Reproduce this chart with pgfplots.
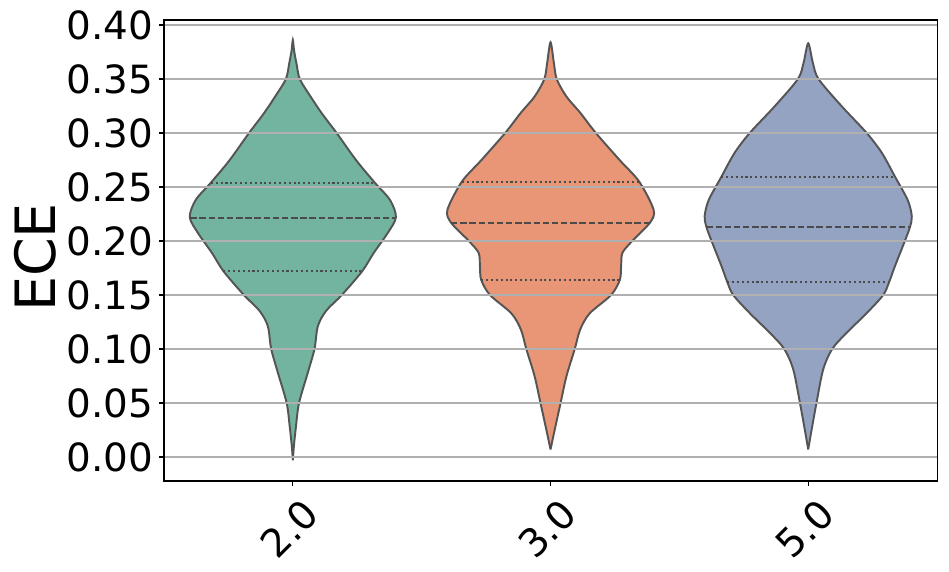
\documentclass[border=0pt]{standalone}
\usepackage{pgfplots}
\pgfplotsset{compat=1.18}
\usepackage{pgfplotstable}
\usepackage{fontspec}
\setmainfont{DejaVu Sans}
\definecolor{vgreen}{RGB}{114,180,160}
\definecolor{vorange}{RGB}{232,150,117}
\definecolor{vblue}{RGB}{149,163,195}
\definecolor{edgegray}{RGB}{85,85,85}
\definecolor{innergray}{RGB}{75,75,75}
\definecolor{gridgray}{RGB}{176,176,176}

% violin outlines: y value, signed half width (right side up, left side down)
\pgfplotstableread{
y dx
-0.003 0
0.010 0.004
0.028 0.012
0.050 0.024
0.078 0.058
0.100 0.084
0.118 0.094
0.127 0.107
0.137 0.135
0.150 0.190
0.172 0.269
0.189 0.314
0.207 0.367
0.222 0.400
0.238 0.377
0.254 0.318
0.275 0.245
0.300 0.170
0.318 0.113
0.334 0.068
0.350 0.027
0.3645 0.014
0.376 0.005
0.386 0
0.376 -0.005
0.3645 -0.014
0.350 -0.027
0.334 -0.068
0.318 -0.113
0.300 -0.170
0.275 -0.245
0.254 -0.318
0.238 -0.377
0.222 -0.400
0.207 -0.367
0.189 -0.314
0.172 -0.269
0.150 -0.190
0.137 -0.135
0.127 -0.107
0.118 -0.094
0.100 -0.084
0.078 -0.058
0.050 -0.024
0.028 -0.012
0.010 -0.004
-0.003 0
}\violinA

\pgfplotstableread{
y dx
0.007 0
0.025 0.016
0.050 0.039
0.075 0.062
0.100 0.094
0.118 0.115
0.133 0.152
0.150 0.235
0.164 0.269
0.177 0.274
0.189 0.279
0.200 0.317
0.217 0.386
0.229 0.400
0.255 0.344
0.275 0.268
0.300 0.176
0.3185 0.116
0.334 0.061
0.350 0.024
0.365 0.013
0.384 0
0.365 -0.013
0.350 -0.024
0.334 -0.061
0.3185 -0.116
0.300 -0.176
0.275 -0.268
0.255 -0.344
0.229 -0.400
0.217 -0.386
0.200 -0.317
0.189 -0.279
0.177 -0.274
0.164 -0.269
0.150 -0.235
0.133 -0.152
0.118 -0.115
0.100 -0.094
0.075 -0.062
0.050 -0.039
0.025 -0.016
0.007 0
}\violinB

\pgfplotstableread{
y dx
0.007 0
0.025 0.013
0.050 0.032
0.081 0.058
0.100 0.093
0.115 0.149
0.133 0.226
0.150 0.291
0.162 0.314
0.177 0.337
0.200 0.375
0.213 0.395
0.223 0.402
0.238 0.386
0.259 0.338
0.2815 0.286
0.300 0.227
0.325 0.129
0.350 0.040
0.365 0.018
0.383 0
0.365 -0.018
0.350 -0.040
0.325 -0.129
0.300 -0.227
0.2815 -0.286
0.259 -0.338
0.238 -0.386
0.223 -0.402
0.213 -0.395
0.200 -0.375
0.177 -0.337
0.162 -0.314
0.150 -0.291
0.133 -0.226
0.115 -0.149
0.100 -0.093
0.081 -0.058
0.050 -0.032
0.025 -0.013
0.007 0
}\violinC

\begin{document}
\begin{tikzpicture}
\useasboundingbox (-118.08pt,-65.52pt) rectangle (565.2pt,346.32pt);
\begin{axis}[
  at={(0,0)}, anchor=south west,
  scale only axis, width=556.6pt, height=331.9pt,
  xmin=-0.5, xmax=2.5, ymin=-0.0222, ymax=0.4046,
  xtick={0,1,2}, xticklabels={2.0,3.0,5.0},
  ytick={0,0.05,0.10,0.15,0.20,0.25,0.30,0.35,0.40},
  yticklabel style={/pgf/number format/fixed, /pgf/number format/fixed zerofill, /pgf/number format/precision=2, /pgf/number format/assume math mode=true},
  xticklabel style={yshift=-31pt, xshift=-2.5pt, rotate=45, anchor=center},
  ticklabel style={font=\fontsize{28}{33}\selectfont},
  yticklabel style={inner sep=0pt, xshift=-4pt},
  ymajorgrids, grid style={gridgray, line width=0.8pt},
  axis line style={black, line width=0.8pt},
  tick style={black, line width=0.8pt},
  major tick length=3.5pt, tick align=outside,
  xtick pos=bottom, ytick pos=left,
  axis on top,
  ylabel={ECE},
  ylabel style={font=\fontsize{40}{48}\selectfont, at={(axis description cs:-0.167,0.485)}, anchor=center, rotate=0},
]
\addplot[draw=edgegray, line width=1.4pt, fill=vgreen, smooth, tension=0.5] table[x expr=0+\thisrow{dx}, y=y] {\violinA};
\addplot[draw=edgegray, line width=1.4pt, fill=vorange, smooth, tension=0.5] table[x expr=1+\thisrow{dx}, y=y] {\violinB};
\addplot[draw=edgegray, line width=1.4pt, fill=vblue, smooth, tension=0.5] table[x expr=2+\thisrow{dx}, y=y] {\violinC};
% quartiles (dotted) and medians (dashed)
\addplot[innergray, line width=1.5pt, dash pattern=on 1.5pt off 2pt] coordinates {(-0.27,0.1719) (0.27,0.1719)};
\addplot[innergray, line width=1.5pt, dash pattern=on 4.6pt off 2pt] coordinates {(-0.398,0.2216) (0.398,0.2216)};
\addplot[innergray, line width=1.5pt, dash pattern=on 1.5pt off 2pt] coordinates {(-0.318,0.2537) (0.318,0.2537)};
\addplot[innergray, line width=1.5pt, dash pattern=on 1.5pt off 2pt] coordinates {(0.731,0.1636) (1.269,0.1636)};
\addplot[innergray, line width=1.5pt, dash pattern=on 4.6pt off 2pt] coordinates {(0.614,0.2167) (1.386,0.2167)};
\addplot[innergray, line width=1.5pt, dash pattern=on 1.5pt off 2pt] coordinates {(0.656,0.2549) (1.344,0.2549)};
\addplot[innergray, line width=1.5pt, dash pattern=on 1.5pt off 2pt] coordinates {(1.686,0.1623) (2.314,0.1623)};
\addplot[innergray, line width=1.5pt, dash pattern=on 4.6pt off 2pt] coordinates {(1.605,0.2133) (2.395,0.2133)};
\addplot[innergray, line width=1.5pt, dash pattern=on 1.5pt off 2pt] coordinates {(1.662,0.259) (2.338,0.259)};
\end{axis}
\end{tikzpicture}
\end{document}
